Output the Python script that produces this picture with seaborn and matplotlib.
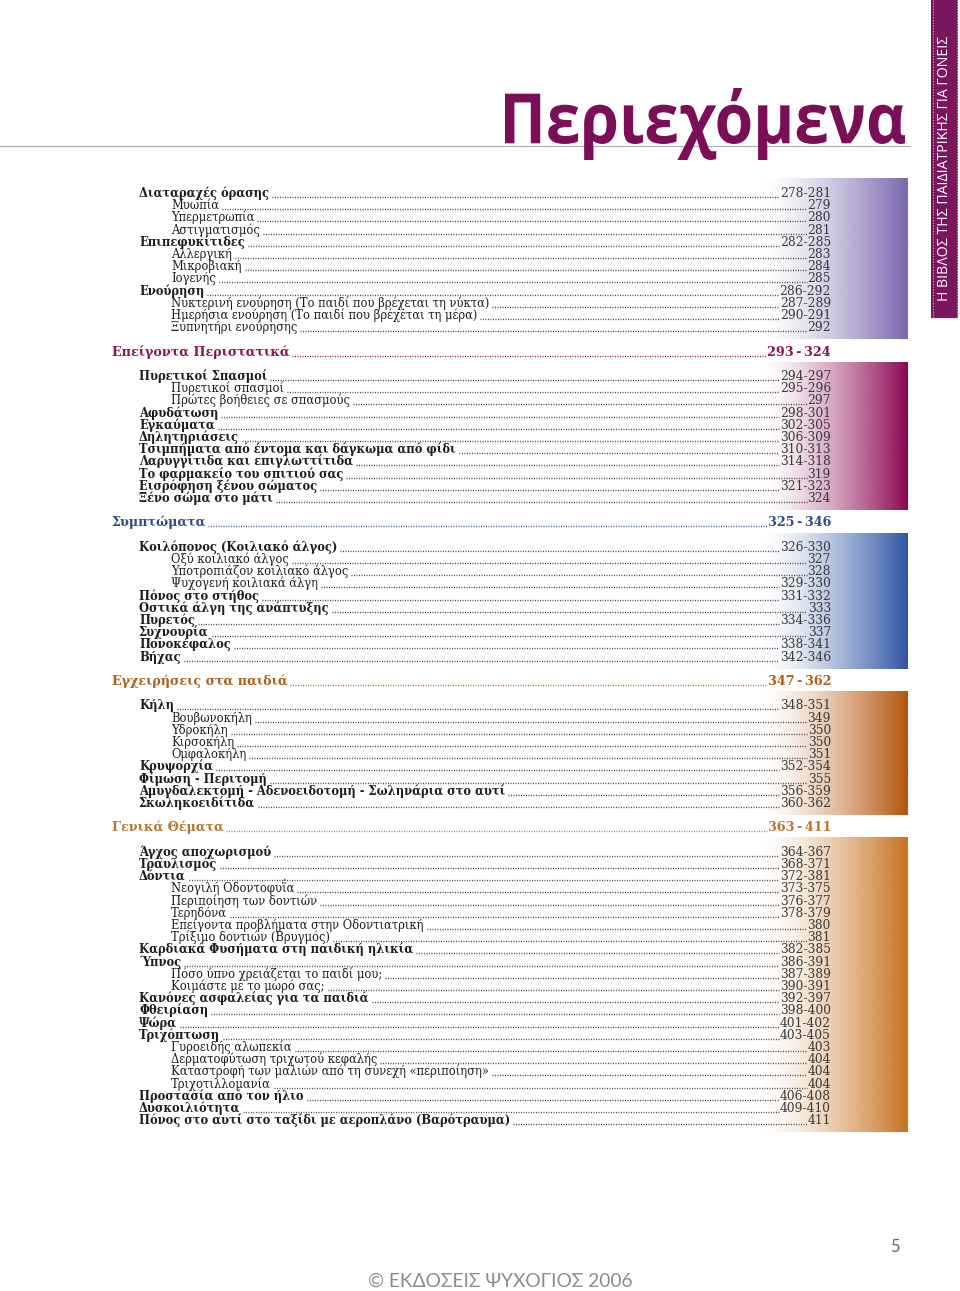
import numpy as np
import matplotlib
matplotlib.use("Agg")
import matplotlib.pyplot as plt
import seaborn as sns
from matplotlib.colors import to_rgb
from matplotlib.textpath import TextPath
from matplotlib.patches import PathPatch, Rectangle
from matplotlib.font_manager import FontProperties
from matplotlib.transforms import Affine2D

sns.set_theme(style="white")
plt.rcParams['font.family'] = ['DejaVu Serif']

# ---- table of contents data ----
headers = ["", "Επείγοντα Περιστατικά", "Συμπτώματα", "Εγχειρήσεις στα παιδιά", "Γενικά Θέματα"]
header_pages = ["", "293-324", "325-346", "347-362", "363-411"]
header_colors = ["", "#8a1655", "#2f4f8c", "#b0601c", "#b8782e"]
band_colors = ["#7766ad", "#8c0650", "#2d55a3", "#b4540a", "#c8711f"]

sec1_titles = ["Διαταραχές όρασης", "Μυωπία", "Υπερμετρωπία", "Αστιγματισμός",
               "Επιπεφυκίτιδες", "Αλλεργική", "Μικροβιακή", "Ιογενής", "Ενούρηση",
               "Νυκτερινή ενούρηση (Το παιδί που βρέχεται τη νύκτα)",
               "Ημερήσια ενούρηση (Το παιδί που βρέχεται τη μέρα)", "Ξυπνητήρι ενούρησης"]
sec1_levels = [1, 2, 2, 2, 1, 2, 2, 2, 1, 2, 2, 2]
sec1_pages = ["278-281", "279", "280", "281", "282-285", "283", "284", "285",
              "286-292", "287-289", "290-291", "292"]

sec2_titles = ["Πυρετικοί Σπασμοί", "Πυρετικοί σπασμοί", "Πρώτες βοήθειες σε σπασμούς",
               "Αφυδάτωση", "Εγκαύματα", "Δηλητηριάσεις",
               "Τσιμπήματα από έντομα και δάγκωμα από φίδι", "Λαρυγγίτιδα και επιγλωττίτιδα",
               "Το φαρμακείο του σπιτιού σας", "Εισρόφηση ξένου σώματος", "Ξένο σώμα στο μάτι"]
sec2_levels = [1, 2, 2, 1, 1, 1, 1, 1, 1, 1, 1]
sec2_pages = ["294-297", "295-296", "297", "298-301", "302-305", "306-309", "310-313",
              "314-318", "319", "321-323", "324"]

sec3_titles = ["Κοιλόπονος (Κοιλιακό άλγος)", "Οξύ κοιλιακό άλγος", "Υποτροπιάζον κοιλιακό άλγος",
               "Ψυχογενή κοιλιακά άλγη", "Πόνος στο στήθος", "Οστικά άλγη της ανάπτυξης",
               "Πυρετός", "Συχνουρία", "Πονοκέφαλος", "Βήχας"]
sec3_levels = [1, 2, 2, 2, 1, 1, 1, 1, 1, 1]
sec3_pages = ["326-330", "327", "328", "329-330", "331-332", "333", "334-336", "337",
              "338-341", "342-346"]

sec4_titles = ["Κήλη", "Βουβωνοκήλη", "Υδροκήλη", "Κιρσοκήλη", "Ομφαλοκήλη", "Κρυψορχία",
               "Φίμωση - Περιτομή", "Αμυγδαλεκτομή - Αδενοειδοτομή - Σωληνάρια στο αυτί",
               "Σκωληκοειδίτιδα"]
sec4_levels = [1, 2, 2, 2, 2, 1, 1, 1, 1]
sec4_pages = ["348-351", "349", "350", "350", "351", "352-354", "355", "356-359", "360-362"]

sec5_titles = ["Άγχος αποχωρισμού", "Τραυλισμός", "Δόντια", "Νεογιλή Οδοντοφυΐα",
               "Περιποίηση των δοντιών", "Τερηδόνα", "Επείγοντα προβλήματα στην Οδοντιατρική",
               "Τρίξιμο δοντιών (Βρυγμός)", "Καρδιακά Φυσήματα στη παιδική ηλικία", "Ύπνος",
               "Πόσο ύπνο χρειάζεται το παιδί μου;", "Κοιμάστε με το μωρό σας;",
               "Κανόνες ασφαλείας για τα παιδιά", "Φθειρίαση", "Ψώρα", "Τριχόπτωση",
               "Γυροειδής αλωπεκία", "Δερματοφύτωση τριχωτού κεφαλής",
               "Καταστροφή των μαλιών από τη συνεχή «περιποίηση»", "Τριχοτιλλομανία",
               "Προστασία από τον ήλιο", "Δυσκοιλιότητα",
               "Πόνος στο αυτί στο ταξίδι με αεροπλάνο (Βαρότραυμα)"]
sec5_levels = [1, 1, 1, 2, 2, 2, 2, 2, 1, 1, 2, 2, 1, 1, 1, 1, 2, 2, 2, 2, 1, 1, 1]
sec5_pages = ["364-367", "368-371", "372-381", "373-375", "376-377", "378-379", "380", "381",
              "382-385", "386-391", "387-389", "390-391", "392-397", "398-400", "401-402",
              "403-405", "403", "404", "404", "404", "406-408", "409-410", "411"]

sections = [(sec1_titles, sec1_levels, sec1_pages), (sec2_titles, sec2_levels, sec2_pages),
            (sec3_titles, sec3_levels, sec3_pages), (sec4_titles, sec4_levels, sec4_pages),
            (sec5_titles, sec5_levels, sec5_pages)]

# ---- page setup ----
W, H = 960, 1291
fig = plt.figure(figsize=(9.6, 12.91), dpi=100)
ax = fig.add_axes([0, 0, 1, 1])
ax.set_xlim(0, W)
ax.set_ylim(H, 0)
ax.axis('off')

y0, pitch = 193, 12.2
x_head, x_l1, x_l2, x_page = 112, 139, 171, 831
fs, fs_page = 8.3, 8.8
text_col, page_col, dot_col = "#1e1e1e", "#3a3a3a", "#3c3c3c"

fig.canvas.draw()
renderer = fig.canvas.get_renderer()


def right_edge(t):
    return t.get_window_extent(renderer).x1


def left_edge(t):
    return t.get_window_extent(renderer).x0


def leader(x0, x1, y, color):
    if x1 > x0:
        ax.plot([x0, x1], [y, y], color=color, lw=1.0, linestyle=(0, (0.7, 1.1)),
                solid_capstyle='butt', zorder=2)


def band(top, bottom, color):
    r, g, b = to_rgb(color)
    t = np.linspace(0, 1, 300)
    img = np.zeros((1, 300, 4))
    img[0, :, 0], img[0, :, 1], img[0, :, 2] = r, g, b
    img[0, :, 3] = t ** 1.4
    ax.imshow(img, extent=(762, 908, bottom, top), aspect='auto', zorder=0,
              interpolation='bilinear')


row = 0
for k, (titles, levels, pages) in enumerate(sections):
    if headers[k]:
        yb = y0 + row * pitch + 4
        th = ax.text(x_head, yb, headers[k], fontsize=9.2, fontweight='bold',
                     color=header_colors[k], va='baseline', ha='left', zorder=3)
        ph = ax.text(x_page, yb, header_pages[k].replace("-", "\u2009-\u2009"), fontsize=9.2,
                     fontweight='bold', color=header_colors[k], va='baseline', ha='right', zorder=3)
        leader(right_edge(th) + 2, left_edge(ph) - 1, yb, header_colors[k])
        row += 2
    first = row
    for title, lev, pg in zip(titles, levels, pages):
        yb = y0 + row * pitch + 4
        tt = ax.text(x_l1 if lev == 1 else x_l2, yb, title, fontsize=fs,
                     fontweight='bold' if lev == 1 else 'normal', color=text_col,
                     va='baseline', ha='left', zorder=3)
        pt = ax.text(x_page, yb, pg, fontsize=fs_page, color=page_col, va='baseline',
                     ha='right', zorder=3)
        leader(right_edge(tt) + 3, left_edge(pt) - 1, yb, dot_col)
        row += 1
    band(y0 + first * pitch - 14, y0 + (row - 1) * pitch + 12, band_colors[k])
    row += 1

ax.set_xlim(0, W)
ax.set_ylim(H, 0)

# rule under the title
ax.plot([0, 910], [146, 146], color="#b0b0b0", lw=0.9, zorder=1)

# title
tp = TextPath((0, 0), "Περιεχόμενα", size=100,
              prop=FontProperties(family='Open Sans', weight='bold'))
bb = tp.get_extents()
tr = (Affine2D().translate(-bb.x0, -bb.y0)
      .scale(400 / bb.width, -72 / bb.height)
      .translate(505, 160))
ax.add_patch(PathPatch(tr.transform_path(tp), facecolor="#7a0e57", edgecolor="none", zorder=4))

# side tab
ax.add_patch(Rectangle((931, 0), 27, 318, facecolor="#7a165e", edgecolor="none", zorder=1))
for xv in (932.5, 956.5):
    ax.plot([xv, xv], [0, 318], color="#d9b5cc", lw=0.8, linestyle=(0, (1, 1.5)), zorder=2)
ax.plot([931, 958], [318, 318], color="#d9b5cc", lw=0.8, linestyle=(0, (1, 1.5)), zorder=2)
ax.text(944, 168, "Η ΒΙΒΛΟΣ ΤΗΣ ΠΑΙΔΙΑΤΡΙΚΗΣ ΓΙΑ ΓΟΝΕΙΣ", rotation=90, color="white",
        fontsize=10.2, family=['Open Sans', 'DejaVu Sans'], ha='center', va='center', zorder=3)

# footer
ax.text(895, 1247, "5", fontsize=12, color="#666666", family=['Lato', 'DejaVu Sans'],
        ha='center', va='center')
ax.text(500, 1281, "© ΕΚΔΟΣΕΙΣ ΨΥΧΟΓΙΟΣ 2006", fontsize=13.8, color="#8c8c8c",
        family=['Lato', 'DejaVu Sans'], ha='center', va='center')

fig.savefig("out.png", dpi=100)
